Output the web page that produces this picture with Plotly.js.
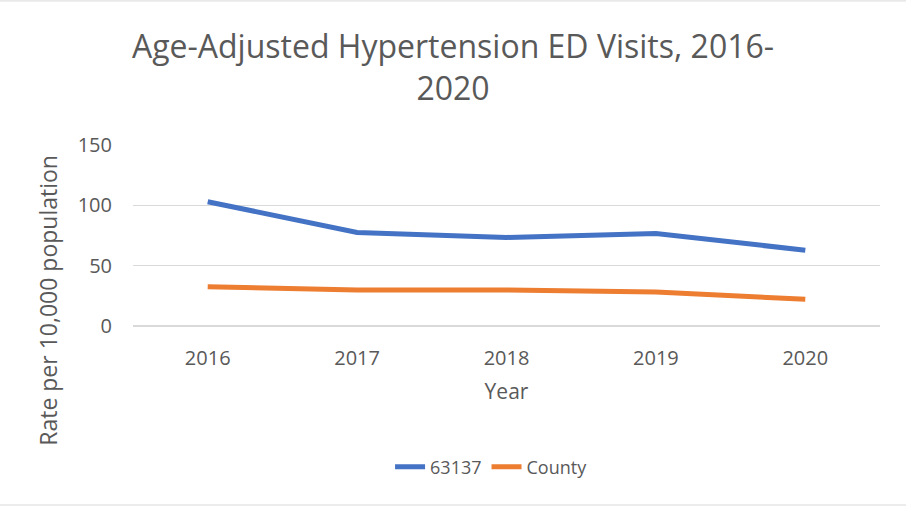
<!DOCTYPE html>
<html>
<head>
<meta charset="utf-8">
<script src="https://cdn.plot.ly/plotly-3.0.1.min.js"></script>
<style>
html,body{margin:0;padding:0;background:#fff;}
#chart{width:906px;height:506px;}
</style>
</head>
<body>
<div id="chart"></div>
<script>
const years = ['2016', '2017', '2018', '2019', '2020'];
const zip63137 = [103, 77.5, 73.4, 76.7, 62.8];
const county = [32.5, 29.8, 29.8, 28.1, 22.2];
const yTicks = [0, 50, 100, 150];

const FONT = 'Open Sans, Noto Sans, sans-serif';
const GRAY = '#595959';

const traces = [
  {x: years, y: zip63137, name: '63137', type: 'scatter', mode: 'lines',
   line: {color: '#4472C4', width: 5, shape: 'linear'}},
  {x: years, y: county, name: 'County', type: 'scatter', mode: 'lines',
   line: {color: '#ED7D31', width: 5, shape: 'linear'}}
];

const layout = {
  width: 906, height: 506,
  paper_bgcolor: '#fff', plot_bgcolor: '#fff',
  margin: {l: 133, r: 26, t: 145, b: 180},
  font: {family: FONT, color: GRAY},
  title: {text: 'Age-Adjusted Hypertension ED Visits, 2016-<br>2020',
          font: {size: 32, color: GRAY, family: FONT, lineposition: 'none'},
          x: 0.5, xanchor: 'center', y: 0.885, yanchor: 'top'},
  xaxis: {type: 'category', range: [-0.5, 4.5], showgrid: false, zeroline: false,
          showline: false, ticks: '', ticklabelstandoff: 18,
          tickfont: {size: 20, color: GRAY},
          title: {text: 'Year', font: {size: 21, color: GRAY}, standoff: 14}},
  yaxis: {range: [0, 150], tickvals: yTicks, ticktext: yTicks.map(String),
          showgrid: true, gridcolor: '#d9d9d9', gridwidth: 1.5,
          zeroline: true, zerolinecolor: '#d9d9d9', zerolinewidth: 1.5,
          showline: false, ticks: '', ticklabelstandoff: 20,
          tickfont: {size: 20, color: GRAY}},
  showlegend: true,
  legend: {orientation: 'h', x: 0.48, xanchor: 'center', y: -0.779, yanchor: 'middle',
           font: {size: 18, color: GRAY}, tracegroupgap: 0},
  annotations: [{
    text: 'Rate per 10,000 population', textangle: -90,
    xref: 'paper', yref: 'paper', x: -0.114, y: 0.144,
    xanchor: 'center', yanchor: 'middle', showarrow: false,
    font: {size: 23, color: GRAY}
  }],
  shapes: [
    {type: 'line', xref: 'paper', yref: 'paper', x0: -0.178, x1: 1.035, y0: 1.796, y1: 1.796,
     line: {color: '#d9d9d9', width: 1}},
    {type: 'line', xref: 'paper', yref: 'paper', x0: -0.178, x1: 1.035, y0: -0.989, y1: -0.989,
     line: {color: '#d9d9d9', width: 1}}
  ]
};

Plotly.newPlot('chart', traces, layout, {displayModeBar: false, staticPlot: true});
</script>
</body>
</html>
